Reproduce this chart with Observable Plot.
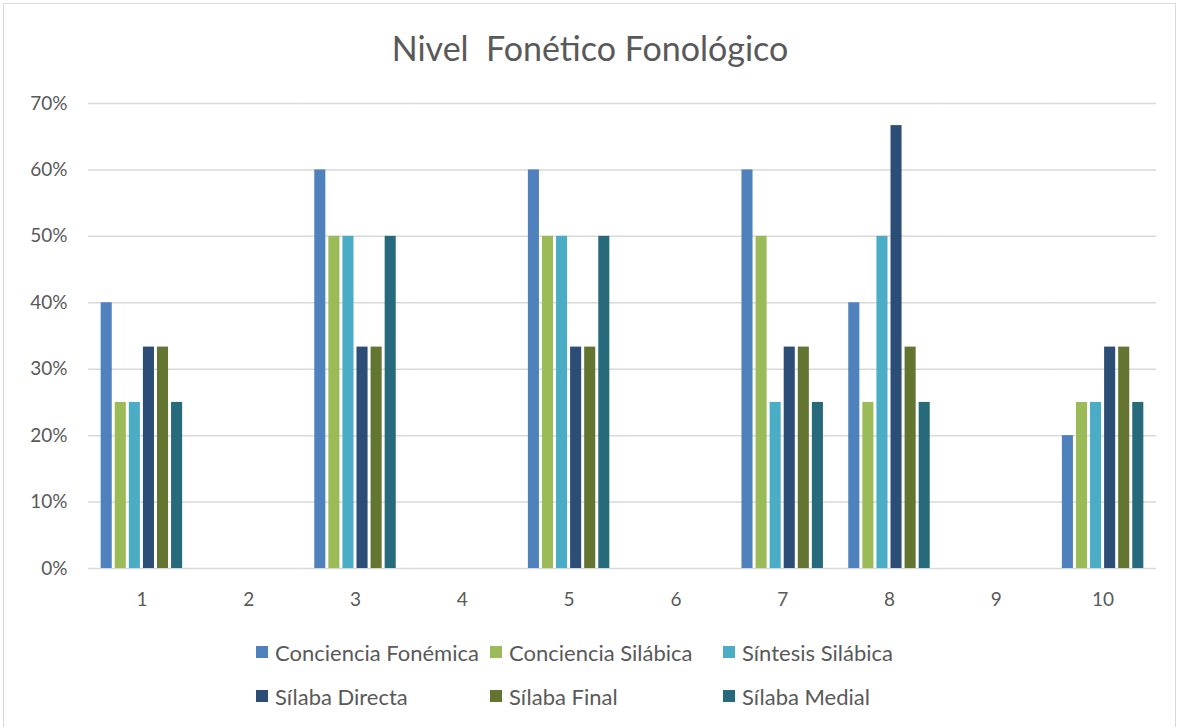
<!DOCTYPE html>
<html>
<head>
<meta charset="utf-8">
<script src="https://cdn.jsdelivr.net/npm/d3@7"></script>
<script src="https://cdn.jsdelivr.net/npm/@observablehq/plot@0.6"></script>
<style>
  html, body { margin: 0; padding: 0; background: #fff; }
  #wrap { position: relative; width: 1180px; height: 727px; overflow: hidden; font-family: Lato, "Open Sans", sans-serif; }
  #frame { position: absolute; left: 3px; top: 3px; width: 1173px; height: 740px; border: 1px solid #D9D9D9; box-sizing: border-box; }
  #title { position: absolute; top: 28px; left: 0; width: 1180px; text-align: center; font-size: 34px; line-height: 1.2; color: #595959; font-weight: 400; white-space: pre; }
  #chart { position: absolute; left: 0; top: 0; }
  .leg { position: absolute; display: flex; align-items: center; font-size: 22px; color: #595959; white-space: nowrap; }
  .leg span.sw { display: inline-block; width: 12px; height: 12px; margin-right: 7px; }
</style>
</head>
<body>
<div id="wrap">
  <div id="frame"></div>
  <div id="chart"></div>
  <div id="title">Nivel  Fonético Fonológico</div>
  <div id="legend"></div>
</div>
<script>
const categories = ["1","2","3","4","5","6","7","8","9","10"];
const series = ["Conciencia Fonémica","Conciencia Silábica","Síntesis Silábica","Sílaba Directa","Sílaba Final","Sílaba Medial"];
const colors = ["#4F81BD","#9BBB59","#4BACC6","#2C4D75","#637530","#276A7C"];
// values per series, per category (null = no bar)
const concienciaFonemica = [0.40, null, 0.60, null, 0.60, null, 0.60, 0.40, null, 0.20];
const concienciaSilabica = [0.25, null, 0.50, null, 0.50, null, 0.50, 0.25, null, 0.25];
const sintesisSilabica   = [0.25, null, 0.50, null, 0.50, null, 0.25, 0.50, null, 0.25];
const silabaDirecta      = [0.3333, null, 0.3333, null, 0.3333, null, 0.3333, 0.6667, null, 0.3333];
const silabaFinal        = [0.3333, null, 0.3333, null, 0.3333, null, 0.3333, 0.3333, null, 0.3333];
const silabaMedial       = [0.25, null, 0.50, null, 0.50, null, 0.25, 0.25, null, 0.25];
const yTicks = [0, 0.1, 0.2, 0.3, 0.4, 0.5, 0.6, 0.7];

const seriesValues = [concienciaFonemica, concienciaSilabica, sintesisSilabica, silabaDirecta, silabaFinal, silabaMedial];
const data = [];
seriesValues.forEach((vals, si) => {
  vals.forEach((v, ci) => {
    if (v != null) data.push({cat: categories[ci], serie: series[si], value: v});
  });
});
// gridlines present in every category facet
const gridData = categories.flatMap(c => yTicks.map(t => ({cat: c, y: t})));

const W = 1180, H = 620;
const chart = Plot.plot({
  width: W,
  height: H,
  marginTop: 103,
  marginBottom: H - 568,
  marginLeft: 88,
  marginRight: 1180 - 1156,
  style: {fontFamily: "Lato, 'Open Sans', sans-serif", fontSize: "19px", color: "#595959", background: "transparent"},
  fx: {domain: categories, padding: 0, round: false, label: null, axis: "bottom", tickSize: 0, tickPadding: 24},
  x: {domain: series, paddingInner: 0.214, paddingOuter: 0.9, round: false, axis: null},
  y: {domain: [0, 0.7], ticks: yTicks, tickFormat: d => Math.round(d * 100) + "%", tickSize: 0, tickPadding: 21, label: null},
  color: {domain: series, range: colors},
  marks: [
    Plot.ruleY(gridData, {fx: "cat", y: "y", stroke: "#D9D9D9", strokeWidth: 1.5, strokeOpacity: 1}),
    Plot.barY(data, {fx: "cat", x: "serie", y: "value", fill: "serie", inset: 0}),
  ]
});
document.getElementById("chart").appendChild(chart);

// legend
const legPos = [[256, 652], [490, 652], [723, 652], [256, 696], [490, 696], [723, 696]];
const legend = document.getElementById("legend");
series.forEach((s, i) => {
  const d = document.createElement("div");
  d.className = "leg";
  d.style.left = legPos[i][0] + "px";
  d.style.top = (legPos[i][1] - 13) + "px";
  d.style.height = "26px";
  d.innerHTML = `<span class="sw" style="background:${colors[i]}"></span>${s}`;
  legend.appendChild(d);
});
</script>
</body>
</html>
